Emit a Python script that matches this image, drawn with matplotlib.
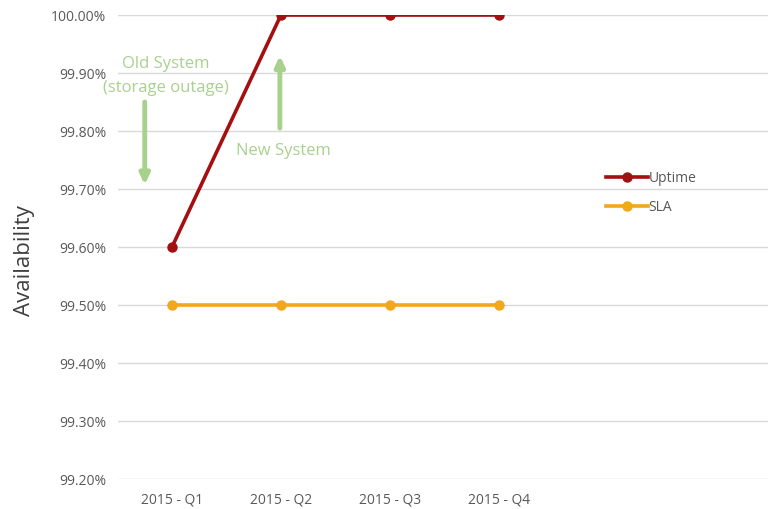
import matplotlib
matplotlib.use("Agg")
import matplotlib.pyplot as plt
from matplotlib.ticker import FuncFormatter

# Dados
quarters = ["2015 - Q1", "2015 - Q2", "2015 - Q3", "2015 - Q4"]
uptime = [99.60, 100.00, 100.00, 100.00]
sla = [99.50, 99.50, 99.50, 99.50]
y_ticks = [99.2, 99.3, 99.4, 99.5, 99.6, 99.7, 99.8, 99.9, 100.0]

plt.rcParams["font.family"] = ["Open Sans", "DejaVu Sans"]

RED = "#a50f0f"
ORANGE = "#f2a81d"
GREEN = "#a9d18e"
TXT = "#595959"

fig = plt.figure(figsize=(7.68, 5.09), dpi=100)
ax = fig.add_axes([0.153, 0.0589, 0.847, 0.9116])

x = list(range(len(quarters)))
ax.plot(x, uptime, color=RED, lw=2.6, marker="o", ms=6.5, label="Uptime", zorder=3)
ax.plot(x, sla, color=ORANGE, lw=2.6, marker="o", ms=6.5, label="SLA", zorder=3)

ax.set_xlim(-0.5, 5.47)
ax.set_ylim(99.2, 100.0)
ax.set_xticks(x)
ax.set_xticklabels(quarters)
ax.set_yticks(y_ticks)
ax.yaxis.set_major_formatter(FuncFormatter(lambda v, p: f"{v:.2f}%"))
ax.tick_params(length=0, labelsize=10, labelcolor=TXT, pad=8)
ax.tick_params(axis="x", pad=10)
ax.grid(axis="y", color="#d9d9d9", lw=1)
ax.set_axisbelow(True)
for s in ax.spines.values():
    s.set_visible(False)
ax.set_ylabel("Availability", fontsize=16, color="#404040")
ax.yaxis.set_label_coords(-0.127, 0.47)

# Anotações
arrow = dict(arrowstyle="-|>,head_width=0.28,head_length=0.6",
             color=GREEN, lw=3.5, shrinkA=0, shrinkB=0)
ax.annotate("", xy=(-0.25, 99.707), xytext=(-0.25, 99.85), arrowprops=arrow)
ax.annotate("", xy=(0.99, 99.93), xytext=(0.99, 99.805), arrowprops=arrow)
ax.text(-0.06, 99.915, "Old System", color=GREEN, fontsize=12, ha="center", va="center")
ax.text(-0.06, 99.875, "(storage outage)", color=GREEN, fontsize=12, ha="center", va="center")
ax.text(1.02, 99.765, "New System", color=GREEN, fontsize=12, ha="center", va="center")

ax.legend(loc="upper left", bbox_to_anchor=(0.732, 0.69), frameon=False,
          fontsize=10, handlelength=3.0, handletextpad=0.05, labelspacing=1.0,
          labelcolor=TXT)

fig.savefig("out.png", dpi=100)
